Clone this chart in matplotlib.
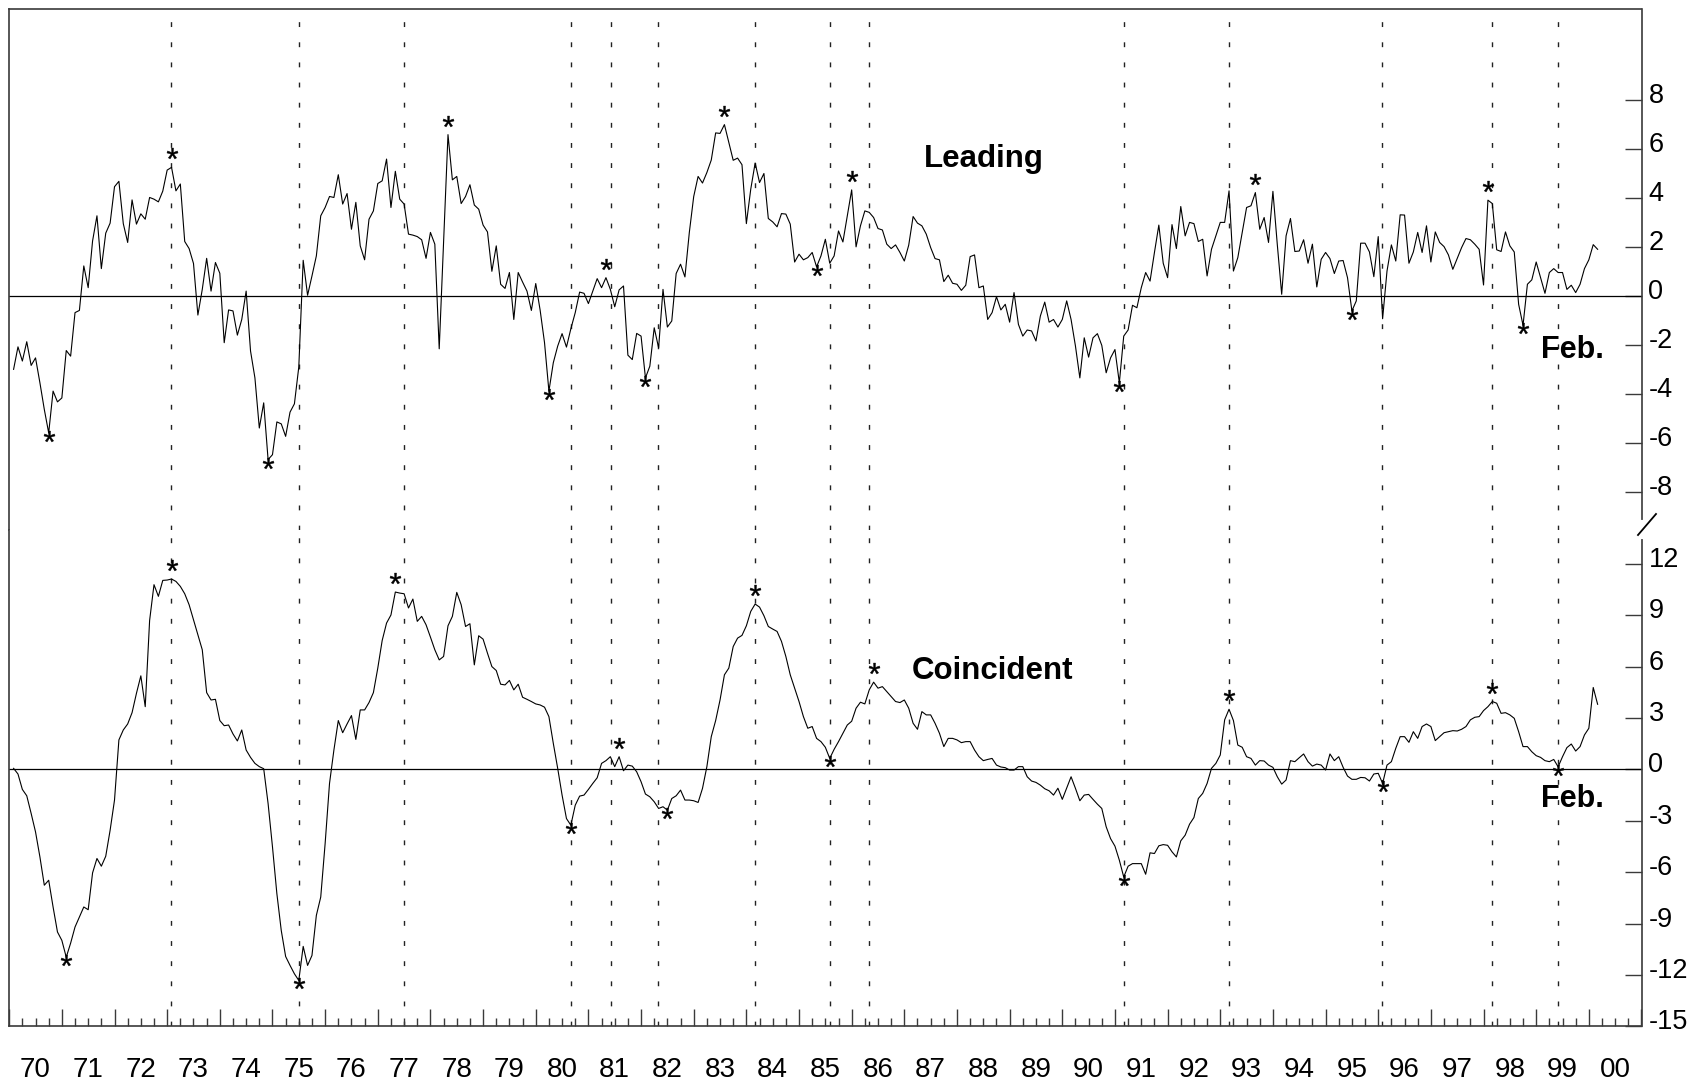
import numpy as np
import matplotlib
matplotlib.use("Agg")
import matplotlib.pyplot as plt
from matplotlib.lines import Line2D
from matplotlib.transforms import ScaledTranslation

plt.rcParams['font.family'] = ['Liberation Sans', 'DejaVu Sans']
plt.rcParams['axes.unicode_minus'] = False
plt.rcParams['mathtext.fontset'] = 'custom'
plt.rcParams['mathtext.rm'] = 'Liberation Sans'

# ---- data: monthly values, Jan 1970 .. Feb 2000 ----
START_YEAR = 1970

leading = [
    -3.0, -2.08, -2.66, -1.87, -2.84, -2.53, -3.55, -4.64, -5.6, -3.89,
    -4.33, -4.17, -2.23, -2.46, -0.68, -0.59, 1.23, 0.34, 2.25, 3.28,
    1.12, 2.57, 2.98, 4.47, 4.69, 2.96, 2.19, 3.93, 2.94, 3.36,
    3.14, 4.03, 3.96, 3.85, 4.29, 5.15, 5.26, 4.30, 4.58, 2.23,
    1.94, 1.33, -0.78, 0.27, 1.54, 0.20, 1.37, 0.93, -1.91, -0.57,
    -0.61, -1.60, -0.96, 0.20, -2.25, -3.35, -5.40, -4.37, -6.69, -6.49,
    -5.15, -5.23, -5.74, -4.75, -4.41, -2.9, 1.46, 0.03, 0.82, 1.64,
    3.28, 3.62, 4.07, 4.03, 4.96, 3.76, 4.19, 2.73, 3.83, 2.05,
    1.48, 3.14, 3.48, 4.60, 4.71, 5.60, 3.62, 5.10, 3.96, 3.76,
    2.53, 2.49, 2.43, 2.30, 1.54, 2.60, 2.12, -2.16, 2.2, 6.60,
    4.75, 4.89, 3.78, 4.07, 4.55, 3.72, 3.55, 2.90, 2.62, 1.01,
    2.05, 0.48, 0.31, 0.96, -0.96, 0.96, 0.57, 0.20, -0.59, 0.51,
    -0.58, -1.91, -3.89, -2.73, -2.05, -1.54, -2.09, -1.34, -0.68, 0.16,
    0.11, -0.31, 0.20, 0.71, 0.34, 0.75, 0.27, -0.44, 0.25, 0.41,
    -2.42, -2.60, -1.53, -1.64, -3.35, -2.87, -1.30, -2.12, 0.27, -1.27,
    -1.02, 0.92, 1.30, 0.78, 2.60, 4.07, 4.89, 4.62, 5.05, 5.56,
    6.67, 6.65, 7.01, 6.28, 5.55, 5.64, 5.37, 2.96, 4.37, 5.44,
    4.64, 5.01, 3.17, 3.03, 2.83, 3.37, 3.35, 2.94, 1.39, 1.71,
    1.48, 1.57, 1.78, 1.19, 1.64, 2.32, 1.34, 1.64, 2.66, 2.21,
    3.28, 4.34, 2.01, 2.87, 3.48, 3.42, 3.21, 2.76, 2.70, 2.12,
    1.94, 2.09, 1.78, 1.43, 2.08, 3.25, 2.98, 2.87, 2.53, 1.98,
    1.53, 1.48, 0.59, 0.85, 0.52, 0.48, 0.23, 0.44, 1.61, 1.68,
    0.34, 0.41, -0.96, -0.68, -0.03, -0.57, -0.34, -1.07, 0.14, -1.16,
    -1.64, -1.39, -1.43, -1.84, -0.82, -0.25, -1.07, -0.96, -1.27, -0.96,
    -0.20, -0.96, -2.05, -3.35, -1.71, -2.50, -1.71, -1.54, -2.02, -3.14,
    -2.53, -2.19, -3.55, -1.64, -1.39, -0.38, -0.48, 0.34, 0.96, 0.61,
    1.78, 2.90, 1.34, 0.75, 2.92, 1.94, 3.66, 2.46, 3.01, 2.96,
    2.23, 2.32, 0.82, 1.91, 2.46, 3.01, 3.01, 4.30, 1.02, 1.57,
    2.60, 3.62, 3.69, 4.23, 2.73, 3.21, 2.19, 4.28, 2.1, 0.07,
    2.46, 3.17, 1.82, 1.84, 2.30, 1.34, 2.12, 0.37, 1.50, 1.78,
    1.53, 0.92, 1.43, 1.45, 0.75, -0.61, -0.20, 2.16, 2.16, 1.80,
    0.79, 2.43, -0.93, 1.02, 2.09, 1.43, 3.32, 3.31, 1.34, 1.80,
    2.60, 1.78, 2.87, 1.39, 2.62, 2.19, 2.02, 1.68, 1.09, 1.54,
    1.98, 2.35, 2.30, 2.12, 1.91, 0.45, 3.92, 3.78, 1.89, 1.82,
    2.62, 2.05, 1.80, -0.34, -1.20, 0.48, 0.66, 1.39, 0.75, 0.11,
    0.96, 1.12, 0.96, 0.96, 0.27, 0.44, 0.14, 0.48, 1.12, 1.48,
    2.10, 1.91,
]

coincident = [
    0.06, -0.27, -1.17, -1.54, -2.57, -3.65, -5.11, -6.76, -6.47, -8.03,
    -9.49, -9.98, -10.96, -10.14, -9.20, -8.62, -8.03, -8.19, -6.04, -5.20,
    -5.65, -5.07, -3.55, -1.79, 1.72, 2.30, 2.65, 3.31, 4.44, 5.46,
    3.66, 8.69, 10.78, 10.10, 11.03, 11.05, 11.11, 10.97, 10.68, 10.25,
    9.61, 8.73, 7.86, 6.98, 4.48, 4.05, 4.09, 2.85, 2.55, 2.59,
    2.07, 1.66, 2.30, 1.13, 0.70, 0.35, 0.16, 0.04, -1.99, -4.52,
    -7.25, -9.40, -10.92, -11.44, -11.93, -12.32, -10.33, -11.44, -10.86, -8.52,
    -7.45, -4.33, -0.82, 1.13, 2.85, 2.14, 2.65, 3.14, 1.75, 3.47,
    3.47, 3.90, 4.48, 5.91, 7.52, 8.54, 9.01, 10.35, 10.29, 10.25,
    9.42, 9.94, 8.64, 8.93, 8.44, 7.72, 6.98, 6.39, 6.59, 8.38,
    8.93, 10.33, 9.61, 8.34, 8.50, 6.10, 7.80, 7.60, 6.78, 6.00,
    5.77, 4.97, 4.93, 5.19, 4.64, 4.97, 4.21, 4.09, 3.96, 3.82,
    3.76, 3.63, 3.08, 1.52, 0.06, -1.50, -2.87, -3.26, -2.09, -1.56,
    -1.50, -1.17, -0.82, -0.49, 0.35, 0.51, 0.74, 0.16, 0.74, -0.08,
    0.25, 0.19, -0.14, -0.72, -1.44, -1.60, -1.89, -2.28, -2.18, -2.38,
    -1.70, -1.54, -1.21, -1.79, -1.79, -1.83, -1.93, -1.11, 0.16, 1.91,
    2.85, 4.05, 5.52, 5.91, 7.17, 7.66, 7.82, 8.38, 9.22, 9.65,
    9.47, 8.97, 8.34, 8.19, 8.05, 7.47, 6.59, 5.52, 4.74, 3.96,
    3.08, 2.40, 2.50, 1.81, 1.62, 1.29, 0.64, 1.17, 1.62, 2.11,
    2.59, 2.81, 3.57, 3.92, 3.82, 4.64, 5.09, 4.74, 4.83, 4.54,
    4.25, 3.96, 3.90, 4.05, 3.57, 2.69, 2.34, 3.37, 3.18, 3.18,
    2.69, 2.11, 1.33, 1.81, 1.81, 1.72, 1.56, 1.62, 1.62, 1.13,
    0.74, 0.51, 0.58, 0.64, 0.25, 0.14, 0.10, -0.04, -0.04, 0.16,
    0.16, -0.43, -0.68, -0.76, -0.92, -1.13, -1.25, -1.50, -1.10, -1.75,
    -1.09, -0.43, -1.11, -1.83, -1.50, -1.46, -1.75, -2.03, -2.28, -3.35,
    -4.04, -4.48, -5.30, -6.28, -5.65, -5.50, -5.50, -5.50, -6.12, -4.87,
    -4.91, -4.46, -4.39, -4.43, -4.81, -5.11, -4.17, -3.84, -3.20, -2.81,
    -1.70, -1.40, -0.82, 0.06, 0.35, 0.84, 2.89, 3.51, 2.85, 1.42,
    1.29, 0.74, 0.64, 0.25, 0.51, 0.49, 0.25, 0.12, -0.43, -0.86,
    -0.62, 0.51, 0.45, 0.68, 0.90, 0.45, 0.19, 0.31, 0.25, -0.04,
    0.90, 0.51, 0.74, 0.12, -0.39, -0.58, -0.58, -0.47, -0.49, -0.68,
    -0.27, -0.23, -0.82, 0.25, 0.45, 1.23, 1.91, 1.91, 1.58, 2.20,
    1.81, 2.50, 2.65, 2.50, 1.68, 1.91, 2.14, 2.20, 2.26, 2.24,
    2.34, 2.50, 2.89, 3.04, 3.08, 3.43, 3.66, 3.96, 3.86, 3.27,
    3.31, 3.18, 2.98, 2.20, 1.33, 1.33, 1.03, 0.80, 0.70, 0.51,
    0.45, 0.58, 0.15, 0.74, 1.27, 1.48, 1.07, 1.33, 2.01, 2.40,
    4.78, 3.80,
]

# turning points (month index into the series)
lead_peaks = [36, 99, 135, 162, 191, 283, 336]
lead_troughs = [8, 58, 122, 144, 183, 252, 305, 344]
coin_peaks = [36, 87, 138, 169, 196, 277, 337]
coin_troughs = [12, 65, 127, 149, 186, 253, 312, 352]

# reference dates (dotted verticals), decimal years
ref_dates = [1973.08, 1975.50, 1977.50, 1980.67, 1981.42, 1982.33, 1984.17,
             1985.58, 1986.33, 1991.17, 1993.17, 1996.08, 1998.17, 1999.42]

years = list(range(1970, 2001))
year_labels = [f"{y % 100:02d}" for y in years]

x = START_YEAR + (np.arange(len(leading)) + 1) / 12.0

# ---- layout (pixel geometry of the reference) ----
W, H = 1703, 1090
fig = plt.figure(figsize=(W / 100, H / 100), dpi=100)
x_left, x_right = 9.2, 1641.5
y_top, y_brk, y_bot = 8.7, 529.5, 1026.4
L, R = x_left / W, x_right / W
ax1 = fig.add_axes([L, 1 - y_brk / H, R - L, (y_brk - y_top) / H])
ax2 = fig.add_axes([L, 1 - y_bot / H, R - L, (y_bot - y_brk) / H], sharex=ax1)

ax1.set_xlim(1970, 2001)
ax1.set_ylim(-9.55, 11.75)
ax2.set_ylim(-15, 14.0)

frame_col = "#3a3a3a"
for ax in (ax1, ax2):
    for s in ax.spines.values():
        s.set_color(frame_col)
        s.set_linewidth(1.2)
    ax.axhline(0, color="black", lw=0.9, zorder=2)
    for d in ref_dates:
        ax.axvline(d, color="#222222", lw=1.0, ls=(0, (3.5, 11)), zorder=1)
    ax.yaxis.tick_right()
    ax.tick_params(axis="y", which="both", direction="in", length=12,
                   width=1, colors=frame_col, labelcolor="black",
                   labelsize=19.5, pad=5, left=False, right=True)

ax1.spines["bottom"].set_visible(False)
ax2.spines["top"].set_visible(False)
ax1.tick_params(axis="x", which="both", bottom=False, labelbottom=False)

ax1.set_yticks(range(-8, 9, 2))
ax2.set_yticks(range(-15, 13, 3))

# x axis: year ticks + quarterly minor ticks, labels centred in each year
ax2.set_xticks(years + [2001])
ax2.set_xticks([y + q for y in years for q in (0.25, 0.5, 0.75)], minor=True)
ax2.tick_params(axis="x", which="major", direction="in", length=12.5,
                width=1, colors=frame_col, labelbottom=False)
ax2.tick_params(axis="x", which="minor", direction="in", length=5.8,
                width=1, colors=frame_col)
sec = ax2.secondary_xaxis("bottom")
sec.set_xticks([y + 0.5 for y in years], labels=year_labels)
sec.tick_params(length=0, pad=22, labelsize=20)
sec.spines["bottom"].set_visible(False)

# shift right-hand tick labels slightly upward, as in the reference
up = ScaledTranslation(0, 7 / 100, fig.dpi_scale_trans)
for ax in (ax1, ax2):
    for lab in ax.get_yticklabels():
        lab.set_transform(lab.get_transform() + up)

# ---- series ----
ax1.plot(x, leading, color="black", lw=0.8, zorder=3)
ax2.plot(x, coincident, color="black", lw=0.8, zorder=3)


def stars(ax, vals, peaks, troughs):
    vals = np.asarray(vals)
    above = ax.transData + ScaledTranslation(0, 14 / 100, fig.dpi_scale_trans)
    below = ax.transData + ScaledTranslation(0, -3 / 100, fig.dpi_scale_trans)
    ax.plot(x[peaks], vals[peaks], ls="none", marker=r"$\mathrm{*}$",
            ms=8, mew=0.3, color="black", transform=above, zorder=4)
    ax.plot(x[troughs], vals[troughs], ls="none", marker=r"$\mathrm{*}$",
            ms=8, mew=0.3, color="black", transform=below, zorder=4)


stars(ax1, leading, lead_peaks, lead_troughs)
stars(ax2, coincident, coin_peaks, coin_troughs)

ax1.text(1988.5, 5.28, "Leading", ha="center", va="baseline",
         fontsize=22.5, fontweight="bold")
ax2.text(1988.67, 5.25, "Coincident", ha="center", va="baseline",
         fontsize=22.5, fontweight="bold")
ax1.text(1999.68, -2.54, "Feb.", ha="center", va="baseline",
         fontsize=22, fontweight="bold")
ax2.text(1999.68, -2.18, "Feb.", ha="center", va="baseline",
         fontsize=22, fontweight="bold")

# scale break on the right-hand axis
fig.add_artist(Line2D([R, R], [1 - 522 / H, 1 - 537 / H],
                      transform=fig.transFigure, color="white", lw=3))
fig.add_artist(Line2D([1638 / W, 1656 / W], [1 - 535 / H, 1 - 514 / H],
                      transform=fig.transFigure, color="black", lw=1.3))

fig.savefig("out.png", dpi=100)
